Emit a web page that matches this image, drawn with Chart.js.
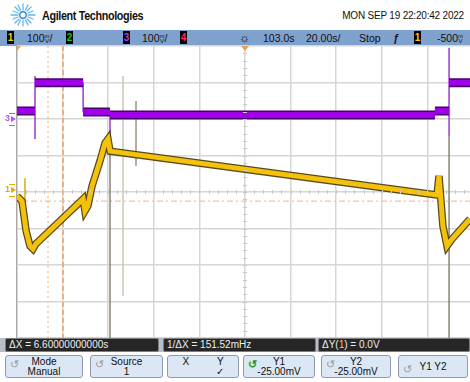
<!DOCTYPE html>
<html>
<head>
<meta charset="utf-8">
<script src="https://cdn.jsdelivr.net/npm/chart.js@4.4.1/dist/chart.umd.min.js"></script>
<style>
body { margin:0; width:470px; height:382px; overflow:hidden; background:#fff; position:relative;
  font-family:"Liberation Sans", Arial, sans-serif; color:#111; }
.abs { position:absolute; white-space:nowrap; }
#brand { left:42px; top:9px; font-size:12px; font-weight:bold; letter-spacing:-0.4px; transform:scaleX(0.9); transform-origin:left; }
#date { right:6px; top:10px; font-size:10px; letter-spacing:-0.2px; }
#bar { left:0; top:30px; width:470px; height:16px; background:#7fa1cd; font-size:10.5px; }
#bar .abs { top:2px; line-height:12px; }
.box { background:#000; width:7px; height:13px; top:1px !important; text-align:center; font-weight:bold; font-size:10px; line-height:13px !important; }
.u { display:inline-block; font-size:6px; line-height:5px; vertical-align:-1px; text-align:center; }
#wrap { left:0; top:40px; width:480px; height:304px; }
#info { left:0; top:338px; width:470px; height:14px; background:#b7bec8; }
.seg { top:0; height:14px; background:#262626; border:1px solid #7d7d7d; border-radius:2px; color:#eee; font-size:10px; line-height:12px; padding-left:3px; box-sizing:border-box; }
.btn { top:355px; height:23px; background:#dbe7f5; border:1px solid #8f9cae; border-radius:3px; box-sizing:border-box; font-size:10px; text-align:center; line-height:10px; padding-top:1px; }
.ic { position:absolute; left:4px; top:3px; font-size:11px; color:#9a9a9a; }
</style>
</head>
<body>
<svg class="abs" style="left:10px;top:3px" width="26" height="24" viewBox="0 0 26 24">
  <g stroke="#63b6e8" stroke-width="1.3" stroke-linecap="round">
    <line x1="13" y1="1" x2="13" y2="7"/><line x1="13" y1="17" x2="13" y2="23"/>
    <line x1="1" y1="12" x2="8" y2="12"/><line x1="18" y1="12" x2="25" y2="12"/>
    <line x1="5" y1="4" x2="9" y2="8"/><line x1="17" y1="16" x2="21" y2="20"/>
    <line x1="21" y1="4" x2="17" y2="8"/><line x1="9" y1="16" x2="5" y2="20"/>
    <line x1="8" y1="2" x2="10.5" y2="7"/><line x1="18" y1="2" x2="15.5" y2="7"/>
    <line x1="8" y1="22" x2="10.5" y2="17"/><line x1="18" y1="22" x2="15.5" y2="17"/>
    <line x1="3" y1="8" x2="8" y2="10"/><line x1="23" y1="8" x2="18" y2="10"/>
    <line x1="3" y1="16" x2="8" y2="14"/><line x1="23" y1="16" x2="18" y2="14"/>
  </g>
  <circle cx="13" cy="12" r="3.2" fill="none" stroke="#2f8fd0" stroke-width="1.4"/>
</svg>
<div id="brand" class="abs">Agilent Technologies</div>
<div id="date" class="abs">MON SEP 19 22:20:42 2022</div>

<div id="bar" class="abs">
  <div class="abs box" style="left:7px;color:#f3d000">1</div>
  <div class="abs" style="left:27px">100<span class="u">m<br>V</span>/</div>
  <div class="abs box" style="left:66px;color:#19c31e">2</div>
  <div class="abs box" style="left:123px;color:#b23ae8">3</div>
  <div class="abs" style="left:142px">100<span class="u">m<br>V</span>/</div>
  <div class="abs box" style="left:180px;color:#ff2a6a">4</div>
  <div class="abs" style="left:239px;font-size:12px">☼</div>
  <div class="abs" style="left:263px">103.0s</div>
  <div class="abs" style="left:306px">20.00s/</div>
  <div class="abs" style="left:359px">Stop</div>
  <div class="abs" style="left:393px;font-style:italic;font-weight:bold">ƒ</div>
  <div class="abs box" style="left:414px;color:#f3d000">1</div>
  <div class="abs" style="left:437px">-500<span class="u">m<br>V</span></div>
</div>

<div id="wrap" class="abs"><canvas id="scope" width="480" height="304"></canvas></div>

<div id="info" class="abs">
  <div class="abs seg" style="left:5px;width:154px">ΔX = 6.60000000000s</div>
  <div class="abs seg" style="left:163px;width:153px">1/ΔX = 151.52mHz</div>
  <div class="abs seg" style="left:318px;width:152px">ΔY(<span style="color:#f3d000">1</span>) = 0.0V</div>
</div>

<div class="abs btn" style="left:5px;width:78px"><span class="ic">↺</span>Mode<br>Manual</div>
<div class="abs btn" style="left:90px;width:73px"><span class="ic">↺</span>Source<br>1</div>
<div class="abs btn" style="left:167px;width:72px">X&nbsp;&nbsp;&nbsp;&nbsp;&nbsp;&nbsp;&nbsp;&nbsp;&nbsp;&nbsp;Y<br>&nbsp;&nbsp;&nbsp;&nbsp;&nbsp;&nbsp;&nbsp;&nbsp;&nbsp;&nbsp;&nbsp;&nbsp;✓</div>
<div class="abs btn" style="left:243px;width:72px"><span class="ic" style="color:#2a9a2a;font-weight:bold">↺</span>Y1<br>-25.00mV</div>
<div class="abs btn" style="left:321px;width:70px"><span class="ic">↺</span>Y2<br>-25.00mV</div>
<div class="abs btn" style="left:398px;width:70px;line-height:21px;padding-top:0"><span class="ic">↺</span>Y1 Y2</div>

<script>
// channel 1 (yellow), time in s, value in mV
var ch1T  = [-100, -97.8, -96, -94.3, -93, -91.7, -71, -70.2, -68.9, -67.1, -63.6, -61.4, -60.1, -59.2, 84.2, 85.1, 86.8, 88.6, 90.8, 98.7];
var ch1MV = [-11, -25, -107, -148, -156, -142, -19, -52, -38, 16, 85, 134, 145, 112, -8, 44, -93, -148, -129, -74];

// channel 3 (purple) flat levels, mV
var ch3Start = [-100, -92.1, -71, -59.2, 83.3, 89.5];
var ch3End   = [-92.1, -71, -59.2, 83.3, 89.5, 100];
var ch3Level = [22, 99, 19, 11, 22, 99];

// ch3 edge lines, mV on ch3 scale
var edgeT   = [-92.1, -71, -59.2, 83.3, 89.5];
var edgeTop = [118, 99, 19, 22, 195];
var edgeBot = [-55, 19, -60, 11, -47];

// glitch lines, mV on ch1 scale
var spikeT   = [-96.5, -59.2, -53.5, -47.8, 89.5];
var spikeTop = [38, 140, 318, 249, 153];
var spikeBot = [-25, -400, -285, 71, -400];
var spikeCol = ['#d8b000', '#8a8470', '#cdc6b6', '#9c9678', '#8a8470'];

// cursors
var cursorX = [-86.4, -79.8];
var cursorY = -25;

var ch1Pts = ch1T.map(function(t, i){ return {x: t, y: ch1MV[i]}; });
var ch3Pts = [];
for (var i = 0; i < ch3Level.length; i++) {
  ch3Pts.push({x: ch3Start[i], y: ch3Level[i]}, {x: ch3End[i], y: ch3Level[i]}, {x: ch3End[i], y: null});
}
var edgePts = [];
for (var i = 0; i < edgeT.length; i++) {
  edgePts.push({x: edgeT[i], y: edgeTop[i]}, {x: edgeT[i], y: edgeBot[i]}, {x: edgeT[i], y: null});
}

function seg(data, color, w, axis, dash) {
  return { data: data, borderColor: color, borderWidth: w, yAxisID: axis || 'y', showLine: true,
    pointRadius: 0, borderDash: dash || [], spanGaps: false, tension: 0, borderCapStyle: 'butt' };
}

// listed bottom to top, reversed below since chart.js paints dataset 0 last
var datasets = [];
datasets.push(seg([{x: cursorX[0], y: 400}, {x: cursorX[0], y: -400}], '#f6c9a2', 1.5, 'y', [2, 3]));
datasets.push(seg([{x: cursorX[1], y: 400}, {x: cursorX[1], y: -400}], '#eca46c', 1.5, 'y', [5, 3]));
datasets.push(seg([{x: -100, y: cursorY}, {x: 100, y: cursorY}], '#f4c39c', 1.2, 'y', [6, 3, 2, 3]));
spikeT.forEach(function(t, i){
  datasets.push(seg([{x: t, y: spikeTop[i]}, {x: t, y: spikeBot[i]}], spikeCol[i], 1.5));
});
datasets.push(seg(edgePts, '#8a1fc4', 1.3, 'y3'));
datasets.push(seg(ch3Pts, '#4b0070', 9, 'y3'));
datasets.push(seg(ch3Pts, '#a000e8', 6, 'y3'));
datasets.push(seg(ch1Pts, 'rgba(70,55,0,0.9)', 7.5));
datasets.push(seg(ch1Pts, '#f4c20d', 5));
datasets.reverse();

var marks = {
  id: 'marks',
  afterDraw: function(chart) {
    var c = chart.ctx, x = chart.scales.x, y = chart.scales.y, y3 = chart.scales.y3;
    var cx = x.getPixelForValue(0), cy = y.getPixelForValue(0);
    c.save();
    c.strokeStyle = '#c8c8c8'; c.lineWidth = 1;
    for (var v = -400; v <= 400; v += 20) {
      var py = Math.round(y.getPixelForValue(v)) + 0.5;
      c.beginPath(); c.moveTo(cx - 2, py); c.lineTo(cx + 2, py); c.stroke();
    }
    for (var t = -100; t <= 100; t += 4) {
      var px = Math.round(x.getPixelForValue(t)) + 0.5;
      c.beginPath(); c.moveTo(px, cy - 2); c.lineTo(px, cy + 2); c.stroke();
    }
    // trigger and reference markers
    c.fillStyle = '#f0a050';
    c.beginPath(); c.moveTo(cx - 4, chart.chartArea.top); c.lineTo(cx + 4, chart.chartArea.top); c.lineTo(cx, chart.chartArea.top + 5); c.closePath(); c.fill();
    c.beginPath(); c.moveTo(chart.chartArea.left, chart.chartArea.top); c.lineTo(chart.chartArea.left + 4, chart.chartArea.top); c.lineTo(chart.chartArea.left, chart.chartArea.top + 5); c.closePath(); c.fill();
    // channel ground markers
    c.font = 'bold 9px "Liberation Sans", Arial';
    c.textBaseline = 'middle';
    var p3 = y3.getPixelForValue(0);
    c.fillStyle = '#c050f0';
    c.fillText('3', 5, p3);
    c.beginPath(); c.moveTo(11, p3 - 3); c.lineTo(16, p3); c.lineTo(11, p3 + 3); c.closePath(); c.fill();
    c.fillRect(9, p3 - 6, 6, 1); c.fillRect(9, p3 + 6, 6, 1);
    var p1 = y.getPixelForValue(0) - 2;
    c.fillStyle = '#eaa800';
    c.fillText('1', 5, p1);
    c.beginPath(); c.moveTo(11, p1 - 3); c.lineTo(16, p1); c.lineTo(11, p1 + 3); c.closePath(); c.fill();
    c.fillRect(9, p1 - 6, 6, 1); c.fillRect(9, p1 + 6, 6, 1);
    c.restore();
  }
};

new Chart(document.getElementById('scope'), {
  type: 'scatter',
  data: { datasets: datasets },
  options: {
    responsive: false,
    animation: false,
    layout: { padding: { left: 17, right: 7, top: 6, bottom: 6 } },
    plugins: { legend: { display: false }, tooltip: { enabled: false } },
    scales: {
      x: { type: 'linear', min: -100, max: 100,
        ticks: { display: false, stepSize: 20 },
        grid: { drawTicks: false, lineWidth: 1.5,
          color: function(ctx){ return ctx.index === 0 ? '#a9a9a9' : '#d6d6d6'; } },
        border: { display: false } },
      y: { min: -400, max: 400,
        ticks: { display: false, stepSize: 100 },
        grid: { drawTicks: false, lineWidth: 1.5, color: '#d6d6d6' },
        border: { display: false } },
      y3: { min: -600, max: 200, display: false }
    }
  },
  plugins: [marks]
});
</script>
</body>
</html>
